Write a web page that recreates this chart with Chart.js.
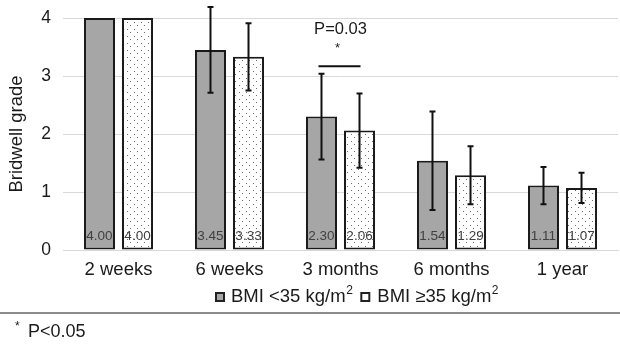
<!DOCTYPE html>
<html><head><meta charset="utf-8">
<script src="https://cdn.jsdelivr.net/npm/chart.js@4.4.1/dist/chart.umd.min.js"></script>
<style>html,body{margin:0;padding:0;background:#fff}#wrap{width:620px;height:344px;position:relative}</style>
</head><body><div id="wrap"><canvas id="c" width="620" height="344"></canvas></div>
<script>
const categories = ['2 weeks', '6 weeks', '3 months', '6 months', '1 year'];
const bmiUnder35 = [4.00, 3.45, 2.30, 1.54, 1.11];
const bmiOver35 = [4.00, 3.33, 2.06, 1.29, 1.07];
const sdUnder35 = [0, 0.74, 0.74, 0.85, 0.32];
const sdOver35 = [0, 0.58, 0.64, 0.50, 0.26];
const yTicks = [0, 1, 2, 3, 4];
const seriesNames = ['BMI <35 kg/m', 'BMI \u226535 kg/m'];
const sigCategory = 2;
const sigLineValue = 3.17;
const sigStarValue = 3.48;
const sigTextValue = 3.81;
const sigText = 'P=0.03';
const footnote = 'P<0.05';

const FONT = '"Liberation Sans", Arial, Helvetica, sans-serif';

function dotPattern() {
  const p = document.createElement('canvas');
  p.width = 7; p.height = 7;
  const g = p.getContext('2d');
  g.fillStyle = '#fff'; g.fillRect(0, 0, 7, 7);
  g.fillStyle = '#6e6e6e';
  g.fillRect(1, 1, 1, 1);
  g.fillRect(4, 4, 1, 1);
  return document.getElementById('c').getContext('2d').createPattern(p, 'repeat');
}

const extras = {
  id: 'extras',
  afterDatasetsDraw(chart) {
    const ctx = chart.ctx;
    const y = chart.scales.y;
    const sds = [sdUnder35, sdOver35];
    ctx.save();
    chart.data.datasets.forEach((ds, di) => {
      const meta = chart.getDatasetMeta(di);
      meta.data.forEach((bar, i) => {
        const sd = sds[di][i];
        if (!sd) return;
        const v = ds.data[i];
        const top = y.getPixelForValue(v + sd);
        const bot = y.getPixelForValue(v - sd);
        ctx.strokeStyle = '#111';
        ctx.lineWidth = 2;
        ctx.beginPath();
        ctx.moveTo(bar.x, top); ctx.lineTo(bar.x, bot);
        ctx.moveTo(bar.x - 3, top); ctx.lineTo(bar.x + 3, top);
        ctx.moveTo(bar.x - 3, bot); ctx.lineTo(bar.x + 3, bot);
        ctx.stroke();
      });
    });
    ctx.font = '13.5px ' + FONT;
    ctx.fillStyle = '#404040';
    ctx.textAlign = 'center';
    ctx.textBaseline = 'middle';
    chart.data.datasets.forEach((ds, di) => {
      const meta = chart.getDatasetMeta(di);
      meta.data.forEach((bar, i) => {
        ctx.fillText(ds.data[i].toFixed(2), bar.x, y.getPixelForValue(0) - 14);
      });
    });
    const a = chart.getDatasetMeta(0).data[sigCategory];
    const b = chart.getDatasetMeta(1).data[sigCategory];
    const ly = y.getPixelForValue(sigLineValue);
    ctx.strokeStyle = '#111';
    ctx.lineWidth = 2;
    ctx.beginPath();
    ctx.moveTo(a.x - 3, ly); ctx.lineTo(b.x + 1, ly); ctx.stroke();
    const mx = (a.x + b.x) / 2;
    ctx.fillStyle = '#1a1a1a';
    ctx.font = '16.5px ' + FONT;
    ctx.fillText(sigText, mx, y.getPixelForValue(sigTextValue));
    ctx.font = '13px ' + FONT;
    ctx.fillText('*', mx - 3, y.getPixelForValue(sigStarValue));
    ctx.restore();
  },
  afterDraw(chart) {
    const ctx = chart.ctx;
    ctx.save();
    const ly = 297;
    ctx.textBaseline = 'middle';
    ctx.textAlign = 'left';
    let x = 215;
    const fills = ['#a6a6a6', '#ffffff'];
    seriesNames.forEach((name, i) => {
      ctx.fillStyle = fills[i];
      ctx.fillRect(x + 1, ly - 4, 8, 8);
      ctx.strokeStyle = '#222';
      ctx.lineWidth = 2;
      ctx.strokeRect(x + 1, ly - 4, 8, 8);
      x += (i === 0 ? 16 : 17);
      ctx.fillStyle = '#1a1a1a';
      ctx.font = '18.5px ' + FONT;
      ctx.fillText(name, x, ly);
      x += ctx.measureText(name).width;
      ctx.font = '12px ' + FONT;
      ctx.fillText('2', x + 0.5, ly - 6);
      x += ctx.measureText('2').width + 8;
    });
    ctx.strokeStyle = '#8c8c8c';
    ctx.lineWidth = 2;
    ctx.beginPath();
    ctx.moveTo(0, 313); ctx.lineTo(620, 313); ctx.stroke();
    ctx.fillStyle = '#1a1a1a';
    ctx.textBaseline = 'alphabetic';
    ctx.font = '12px ' + FONT;
    ctx.fillText('*', 15, 330);
    ctx.font = '18px ' + FONT;
    ctx.fillText(footnote, 28, 337);
    ctx.restore();
  }
};

new Chart(document.getElementById('c'), {
  type: 'bar',
  data: {
    labels: categories,
    datasets: [
      { label: seriesNames[0], data: bmiUnder35, backgroundColor: '#a6a6a6', borderColor: '#1a1a1a', borderWidth: 2, borderSkipped: false },
      { label: seriesNames[1], data: bmiOver35, backgroundColor: dotPattern(), borderColor: '#1a1a1a', borderWidth: 2, borderSkipped: false }
    ]
  },
  options: {
    responsive: false,
    animation: false,
    devicePixelRatio: 1,
    categoryPercentage: 0.685,
    barPercentage: 0.816,
    layout: { padding: { top: 18, right: 2, left: 0, bottom: 0 } },
    plugins: { legend: { display: false }, tooltip: { enabled: false } },
    scales: {
      x: {
        grid: { display: false, drawTicks: false },
        border: { display: true, color: '#d9d9d9', width: 1 },
        ticks: { color: '#1a1a1a', font: { family: FONT, size: 18.5 }, padding: 9 },
        afterFit(s) { s.height = 94; s.paddingLeft = 0; s.paddingRight = 0; }
      },
      y: {
        min: 0, max: 4,
        afterBuildTicks(s) { s.ticks = yTicks.map(v => ({ value: v })); },
        grid: { color: '#d9d9d9', lineWidth: 1, drawTicks: false },
        border: { display: false },
        ticks: { color: '#1a1a1a', font: { family: FONT, size: 17.5 }, padding: 12 },
        title: { display: true, text: 'Bridwell grade', color: '#1a1a1a', font: { family: FONT, size: 18.5 }, padding: { top: 6, bottom: 0 } },
        afterFit(s) { s.width = 63; s.paddingTop = 0; s.paddingBottom = 0; }
      }
    }
  },
  plugins: [extras]
});
</script></body></html>
